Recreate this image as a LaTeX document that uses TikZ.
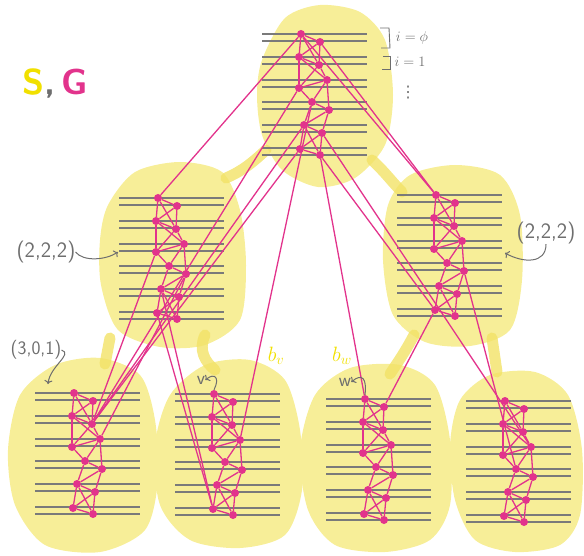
\documentclass[tikz,border=0pt]{standalone}
\usepackage{fontspec}
\usepackage{xcolor}
\usepackage{tikz}
\usetikzlibrary{positioning,calc,arrows.meta}
\newfontfamily\dotsfont{DejaVu Sans}
\definecolor{blobyellow}{HTML}{F7EE98}
\definecolor{bandyellow}{HTML}{F2E266}
\definecolor{markyellow}{HTML}{F1E000}
\definecolor{gmag}{HTML}{E2338C}
\definecolor{lvlgray}{HTML}{7A7A7A}
\definecolor{txtgray}{HTML}{6E6E6E}

\begin{document}
\begin{tikzpicture}[x=1pt, y=-1pt,
    blob/.style={fill=blobyellow, draw=none},
    band/.style={draw=bandyellow, line width=11pt, line cap=round, opacity=0.8},
    lvl/.style={draw=lvlgray, line width=1.7pt},
    dot/.style={circle, fill=gmag, inner sep=0pt, minimum size=8pt},
    gedge/.style={draw=gmag, line width=1.3pt},
    note/.style={text=txtgray, inner sep=0pt, font=\sffamily\fontsize{22}{22}\selectfont},
    hand/.style={draw=txtgray, line width=1pt, ->}]
    \useasboundingbox (0,0) rectangle (584,556);

    % the seven pieces of S
    \fill[blob] plot[smooth cycle] coordinates {(262,60) (285,18) (320,5) (360,12) (385,40) (393,95) (385,145) (355,178) (318,187) (282,170) (262,135) (257,95)};
    \fill[blob] plot[smooth cycle] coordinates {(108,205) (135,172) (180,162) (222,172) (240,210) (246,265) (240,320) (205,345) (160,347) (118,330) (101,285) (100,240)};
    \fill[blob] plot[smooth cycle] coordinates {(388,205) (410,175) (455,165) (500,175) (520,215) (522,280) (510,330) (470,346) (425,342) (393,315) (383,260)};
    \fill[blob] plot[smooth cycle] coordinates {(20,395) (55,365) (100,358) (140,375) (155,420) (158,480) (145,530) (100,552) (45,545) (15,505) (8,450)};
    \fill[blob] plot[smooth cycle] coordinates {(170,395) (205,365) (250,360) (285,380) (300,430) (302,490) (285,535) (240,548) (190,540) (160,505) (155,445)};
    \fill[blob] plot[smooth cycle] coordinates {(315,395) (350,368) (400,365) (435,385) (450,440) (450,505) (430,540) (385,552) (335,545) (308,510) (300,450)};
    \fill[blob] plot[smooth cycle] coordinates {(460,400) (490,375) (535,372) (568,395) (582,450) (580,515) (560,545) (515,552) (475,540) (455,500) (450,445)};

    % tree bands
    \draw[band] (266,150) .. controls (250,165) and (240,172) .. (226,178);
    \draw[band] (372,160) .. controls (385,172) and (392,182) .. (402,192);
    \draw[band] (110,338) -- (105,364);
    \draw[band] (205,335) .. controls (198,350) and (205,362) .. (215,370);
    \draw[band] (414,335) .. controls (405,352) and (398,362) .. (390,374);
    \draw[band] (492,338) -- (497,372);

    % levels and gadget of each piece
    \foreach \blk/\gx/\gy in {R/301/34, A/158/198, B/436/195, LL/74/393, LR/214/394, RL/365/399, RR/505/401} {
        \foreach \dy in {0,7,23,30,46,53,68,75,91,98,114,121}
            \draw[lvl] ({\gx-39},{\gy+\dy}) -- ({\gx+66},{\gy+\dy});
        \foreach \k/\dx/\dy in {1/0/0, 2/19/8, 3/-2/23, 4/18/31, 5/26/46, 6/-2/54, 7/11/68, 8/28/76, 9/3/91, 10/21/99, 11/-1/115, 12/19/121}
            \node[dot] (\blk\k) at ({\gx+(\dx)},{\gy+(\dy)}) {};
        \foreach \p/\q in {1/2,1/3,1/4,2/3,2/4,3/4,3/5,4/5,4/6,5/6,3/6,6/7,5/7,5/8,7/8,7/9,8/9,8/10,9/10,9/11,9/12,10/11,10/12,11/12}
            \draw[gedge] (\blk\p) -- (\blk\q);
    }

    % edges between pieces
    \foreach \p/\q in {R1/A1, R1/B1, R2/B1, R6/LL4, R9/LL4, R11/LL4, A6/LL4, A8/LL5, A9/LR11, A11/LR11, R7/LR5, R12/RL1, R12/B11, B11/RL2, R10/RR5, B8/RR7}
        \draw[gedge] (\p) -- (\q);

    % labels
    \node[inner sep=0pt, font=\sffamily\bfseries\fontsize{36}{36}\selectfont] (title) at (55,84) {\textcolor{markyellow}{S}\textcolor{txtgray}{,}\,\textcolor{gmag}{G}};

    \node[note, font=\fontsize{15}{15}\selectfont] (lev0) at (412,38) {$i=\phi$};
    \node[note, font=\fontsize{15}{15}\selectfont] (lev1) at (410,62) {$i=1$};
    \node[note, font=\dotsfont\fontsize{16}{16}\selectfont] (vdots) at (408,93) {⋮};
    \draw[txtgray, line width=0.9pt] (380,28) -- (389,28) -- (390,48) -- (381,48);
    \draw[txtgray, line width=0.9pt] (383,56) -- (390,56) -- (390,69) -- (382,69);

    \node[note] (tupA) at (46,252) {(2,2,2)};
    \coordinate (tupAend) at (118,252);
    \draw[hand] (tupA.east) .. controls +(8,10) and +(-12,8) .. (tupAend);

    \node[note] (tupB) at (546,233) {(2,2,2)};
    \coordinate (tupBend) at (505,253);
    \draw[hand] (tupB.south) .. controls +(0,20) and +(18,10) .. (tupBend);

    \node[note, font=\sffamily\fontsize{19}{19}\selectfont] (tupLL) at (36,350) {(3,0,1)};
    \coordinate (tupLLend) at (48,384);
    \draw[hand] (tupLL.east) .. controls +(12,4) and +(2,-18) .. (tupLLend);

    \node[note, font=\sffamily\fontsize{19}{19}\selectfont] (vlab) at (201,380) {v};
    \draw[hand] (LR1.north) .. controls (220,378) and (215,372) .. (vlab.east);
    \node[note, font=\sffamily\fontsize{19}{19}\selectfont] (wlab) at (345,382) {w};
    \draw[hand] (RL1.north) .. controls (367,378) and (362,373) .. (wlab.east);

    \node[text=markyellow, inner sep=0pt, font=\fontsize{20}{20}\selectfont] (bv) at (276,356) {$b_v$};
    \node[text=markyellow, inner sep=0pt, font=\fontsize{20}{20}\selectfont] (bw) at (342,356) {$b_w$};
\end{tikzpicture}
\end{document}
